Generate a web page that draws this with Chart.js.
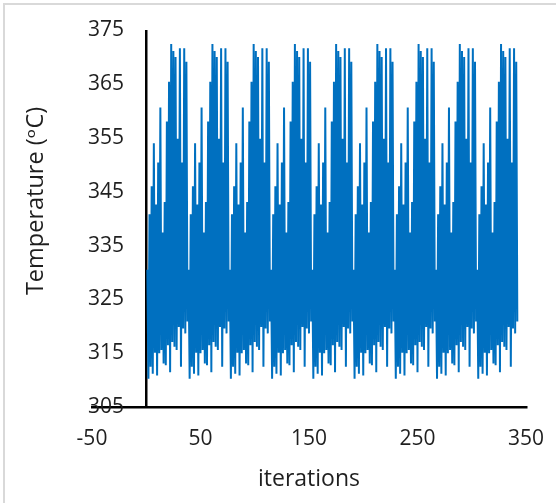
<!DOCTYPE html>
<html>
<head>
<meta charset="utf-8">
<script src="https://cdn.jsdelivr.net/npm/chart.js@4.4.1/dist/chart.umd.min.js"></script>
<style>
  html, body { margin: 0; padding: 0; background: #fff; overflow: hidden; }
  .frame { position: absolute; left: 3px; top: 3px; width: 700px; height: 700px; border: 2px solid #d9d9d9; }
  #chart { position: absolute; left: 0; top: 0; }
</style>
</head>
<body>
<div class="frame"></div>
<canvas id="chart" width="556" height="503"></canvas>
<script>
// temperature per iteration (one row ~ one cycle)
const temperature = [
  330.5, 310.3, 340.8, 312.5, 346, 311.2, 354, 315.1, 342.6, 310.9, 350.4, 315, 360.6, 315.6, 337.4, 313.1, 343.1, 312.8, 358, 316.5, 365.4, 311.5, 372.4, 317.1, 371.1, 316.2, 370, 315.6, 354.8, 319.9, 371.6, 312.5, 350.4, 319.6, 371.6, 318.7, 369.1, 320.9,
  330.5, 310.3, 340.8, 312.5, 346, 311.2, 354, 315.1, 342.6, 310.9, 350.4, 315, 360.6, 315.6, 337.4, 313.1, 343.1, 312.8, 358, 316.5, 365.4, 311.5, 372.4, 317.1, 371.1, 316.2, 370, 315.6, 354.8, 319.9, 371.6, 312.5, 350.4, 319.6, 371.6, 318.7, 369.1, 320.9,
  330.5, 310.3, 340.8, 312.5, 346, 311.2, 354, 315.1, 342.6, 310.9, 350.4, 315, 360.6, 315.6, 337.4, 313.1, 343.1, 312.8, 358, 316.5, 365.4, 311.5, 372.4, 317.1, 371.1, 316.2, 370, 315.6, 354.8, 319.9, 371.6, 312.5, 350.4, 319.6, 371.6, 318.7, 369.1, 320.9,
  330.5, 310.3, 340.8, 312.5, 346, 311.2, 354, 315.1, 342.6, 310.9, 350.4, 315, 360.6, 315.6, 337.4, 313.1, 343.1, 312.8, 358, 316.5, 365.4, 311.5, 372.4, 317.1, 371.1, 316.2, 370, 315.6, 354.8, 319.9, 371.6, 312.5, 350.4, 319.6, 371.6, 318.7, 369.1, 320.9,
  330.5, 310.3, 340.8, 312.5, 346, 311.2, 354, 315.1, 342.6, 310.9, 350.4, 315, 360.6, 315.6, 337.4, 313.1, 343.1, 312.8, 358, 316.5, 365.4, 311.5, 372.4, 317.1, 371.1, 316.2, 370, 315.6, 354.8, 319.9, 371.6, 312.5, 350.4, 319.6, 371.6, 318.7, 369.1, 320.9,
  330.5, 310.3, 340.8, 312.5, 346, 311.2, 354, 315.1, 342.6, 310.9, 350.4, 315, 360.6, 315.6, 337.4, 313.1, 343.1, 312.8, 358, 316.5, 365.4, 311.5, 372.4, 317.1, 371.1, 316.2, 370, 315.6, 354.8, 319.9, 371.6, 312.5, 350.4, 319.6, 371.6, 318.7, 369.1, 320.9,
  330.5, 310.3, 340.8, 312.5, 346, 311.2, 354, 315.1, 342.6, 310.9, 350.4, 315, 360.6, 315.6, 337.4, 313.1, 343.1, 312.8, 358, 316.5, 365.4, 311.5, 372.4, 317.1, 371.1, 316.2, 370, 315.6, 354.8, 319.9, 371.6, 312.5, 350.4, 319.6, 371.6, 318.7, 369.1, 320.9,
  330.5, 310.3, 340.8, 312.5, 346, 311.2, 354, 315.1, 342.6, 310.9, 350.4, 315, 360.6, 315.6, 337.4, 313.1, 343.1, 312.8, 358, 316.5, 365.4, 311.5, 372.4, 317.1, 371.1, 316.2, 370, 315.6, 354.8, 319.9, 371.6, 312.5, 350.4, 319.6, 371.6, 318.7, 369.1, 320.9,
  330.5, 310.3, 340.8, 312.5, 346, 311.2, 354, 315.1, 342.6, 310.9, 350.4, 315, 360.6, 315.6, 337.4, 313.1, 343.1, 312.8, 358, 316.5, 365.4, 311.5, 372.4, 317.1, 371.1, 316.2, 370, 315.6, 354.8, 319.9, 371.6, 312.5, 350.4, 319.6, 371.6, 318.7, 369.1, 320.9
];
// iteration number of each value (1, 2, 3 ...)
const iterations = temperature.map((t, i) => i + 1);

const xTicks = [-50, 50, 150, 250, 350];
const yTicks = [305, 315, 325, 335, 345, 355, 365, 375];
const yAxisAt = 0; // vertical axis crosses at iteration 0

const fontFamily = "'Open Sans', 'DejaVu Sans', sans-serif";
const textColor = '#1f1f1f';

const points = [];
for (let i = 0; i < temperature.length; i++) {
    points.push({x: iterations[i], y: temperature[i]});
}

new Chart(document.getElementById('chart'), {
    type: 'line',
    data: {
        datasets: [{
            data: points,
            borderColor: '#0070C0',
            borderWidth: 2,
            borderJoinStyle: 'bevel',
            pointRadius: 0,
            tension: 0
        }]
    },
    options: {
        responsive: false,
        animation: false,
        layout: {padding: {left: 22, top: 30, right: 30, bottom: 10}},
        plugins: {legend: {display: false}, tooltip: {enabled: false}},
        scales: {
            x: {
                type: 'linear',
                min: -50,
                max: 350,
                afterBuildTicks: scale => {
                    scale.ticks = xTicks.concat([yAxisAt]).sort((a, b) => a - b).map(v => ({value: v}));
                },
                afterFit: scale => { scale.paddingLeft = 0; scale.paddingRight = 0; },
                grid: {
                    drawTicks: false,
                    lineWidth: 2.5,
                    color: ctx => (ctx.tick && ctx.tick.value === yAxisAt) ? '#000' : 'rgba(0,0,0,0)'
                },
                border: {color: '#000', width: 2.5},
                ticks: {
                    padding: 19,
                    autoSkip: false,
                    maxRotation: 0,
                    color: textColor,
                    font: {family: fontFamily, size: 21},
                    callback: v => v === yAxisAt ? '' : v
                },
                title: {
                    display: true,
                    text: 'iterations',
                    color: textColor,
                    font: {family: fontFamily, size: 23},
                    padding: {top: -5, bottom: 0}
                }
            },
            y: {
                min: 305,
                max: 375,
                afterBuildTicks: scale => {
                    scale.ticks = yTicks.map(v => ({value: v}));
                },
                afterFit: scale => { scale.width = 70; },
                grid: {display: false},
                border: {display: false},
                ticks: {
                    mirror: true,
                    padding: -4,
                    color: textColor,
                    font: {family: fontFamily, size: 21}
                },
                title: {
                    display: true,
                    text: '\u2003\u2002Temperature (\u1D52C)',
                    color: textColor,
                    font: {family: fontFamily, size: 23.5},
                    padding: 0
                }
            }
        }
    }
});
</script>
</body>
</html>
